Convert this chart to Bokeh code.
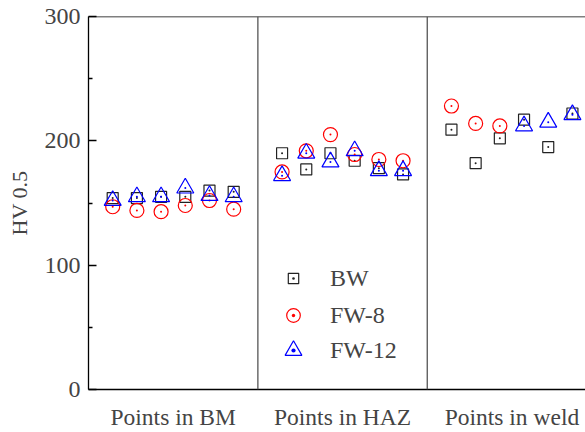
from bokeh.plotting import figure
from bokeh.models import FixedTicker, Span, Legend, LegendItem, Range1d
from bokeh.embed import file_html
from bokeh.resources import INLINE

# Measurement zones along the x axis (7 slots per zone, points at slots 1..6)
group_names = ["Points in BM", "Points in HAZ", "Points in weld"]
group_centers = [3.5, 10.5, 17.5]
group_edges = [7, 14]

# Hardness HV0.5 per indentation point
bw_x = [1, 2, 3, 4, 5, 6, 8, 9, 10, 11, 12, 13, 15, 16, 17, 18, 19, 20]
bw_hv = [154, 154, 155, 155, 160, 159, 190, 177, 190, 184, 178, 173, 209, 182, 202, 217, 195, 222]

fw8_x = [1, 2, 3, 4, 5, 6, 8, 9, 10, 11, 12, 13, 15, 16, 17]
fw8_hv = [147, 144, 143, 148, 152, 145, 175, 192, 205, 189, 185, 184, 228, 214, 212]

fw12_x = [1, 2, 3, 4, 5, 6, 8, 9, 10, 11, 12, 13, 18, 19, 20]
fw12_hv = [152, 155, 155, 162, 156, 155, 172, 190, 183, 192, 176, 176, 212, 215, 221]

y_ticks = [0, 100, 200, 300]
y_minor = [50, 150, 250]

FONT = "Liberation Serif"

p = figure(width=585, height=432, output_backend="svg", toolbar_location=None,
           x_range=Range1d(0, 20.54), y_range=Range1d(0, 300),
           min_border_left=88, min_border_right=0, min_border_top=16, min_border_bottom=43)
p.outline_line_color = None
p.grid.visible = False
p.background_fill_color = "white"
p.border_fill_color = "white"

# off-frame range used only by the legend swatch renderers
p.extra_y_ranges = {"swatch": Range1d(1000, 2000)}

# y axis
p.yaxis.ticker = FixedTicker(ticks=y_ticks, minor_ticks=y_minor)
p.yaxis.axis_label = "HV 0.5"
p.yaxis.axis_label_text_font = FONT
p.yaxis.axis_label_text_font_style = "normal"
p.yaxis.axis_label_text_font_size = "22px"
p.yaxis.axis_label_standoff = 10
p.yaxis.major_label_text_font = FONT
p.yaxis.major_label_text_font_size = "24px"
p.yaxis.major_label_standoff = 8
p.yaxis.major_tick_in = 8
p.yaxis.major_tick_out = 0
p.yaxis.minor_tick_in = 4
p.yaxis.minor_tick_out = 0
p.yaxis.axis_line_width = 1.3
p.yaxis.major_tick_line_width = 1.3
p.yaxis.minor_tick_line_width = 1.3

# x axis with zone names
p.xaxis.ticker = FixedTicker(ticks=group_centers)
p.xaxis.major_label_overrides = {c: n for c, n in zip(group_centers, group_names)}
p.xaxis.major_label_text_font = FONT
p.xaxis.major_label_text_font_size = "23.5px"
p.xaxis.major_label_standoff = 8
p.xaxis.major_tick_line_color = None
p.xaxis.minor_tick_line_color = None
p.xaxis.axis_line_width = 1.3

# frame top and zone separators
p.add_layout(Span(location=300, dimension="width", line_color="black", line_width=1.3))
for e in group_edges:
    p.add_layout(Span(location=e, dimension="height", line_color="#555555", line_width=1.3))

# name, x, y, marker, size, colour, legend swatch box, legend position, label gap
series = [
    ("BW", bw_x, bw_hv, "square", 11, "#222222", (26, 36), (192, 93), 24),
    ("FW-8", fw8_x, fw8_hv, "circle", 14, "#ff0000", (34, 36), (188, 56), 20),
    ("FW-12", fw12_x, fw12_hv, "triangle", 17, "#0000ff", (42, 42), (184, 18), 16),
]

for name, xs, ys, marker, size, color, (gw, gh), loc, gap in series:
    p.scatter(xs, ys, marker=marker, size=size, fill_color=None,
              line_color=color, line_width=1.2)
    p.scatter(xs, ys, marker="circle", size=2, fill_color=color, line_color=None)
    swatch = p.scatter(xs, ys, marker=marker + "_dot", size=size, fill_color=None,
                       line_color=color, line_width=1.2, y_range_name="swatch")
    leg = Legend(items=[LegendItem(label=name, renderers=[swatch])], location=loc,
                 glyph_width=gw, glyph_height=gh, spacing=0, padding=0, margin=0,
                 label_standoff=gap, label_text_font=FONT, label_text_font_size="24px",
                 border_line_color=None, background_fill_alpha=0)
    p.add_layout(leg, "center")

open("out.html", "w").write(file_html(p, INLINE))
